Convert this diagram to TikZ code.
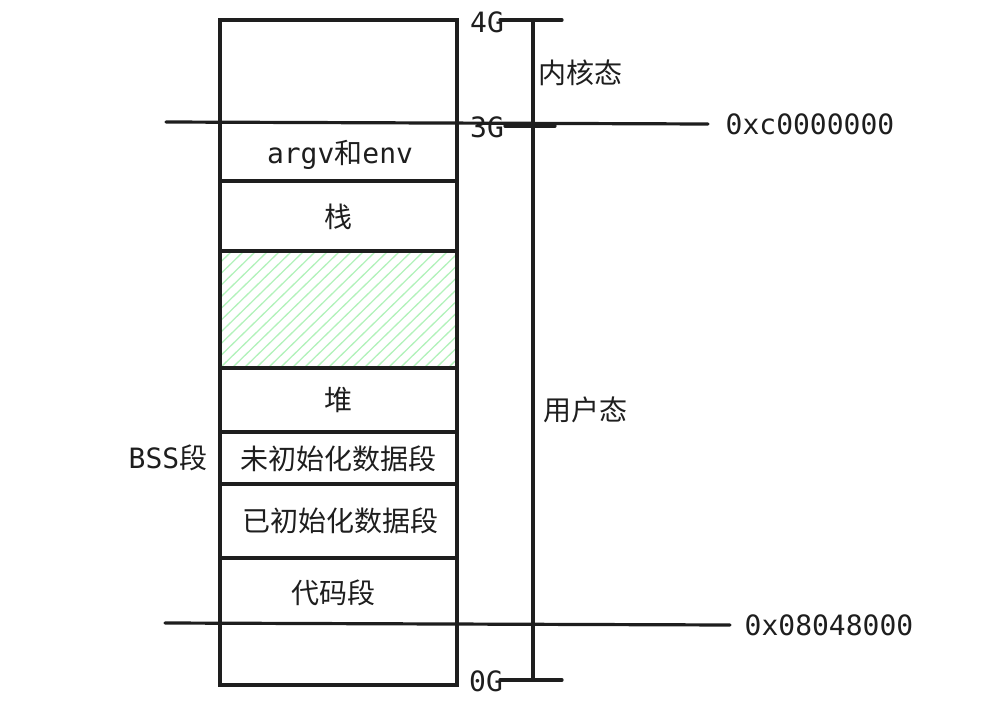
\documentclass[tikz,border=0pt]{standalone}
\usepackage{fontspec}
\setmainfont{DejaVu Sans Mono}
\newfontfamily\cjk{Noto Sans CJK SC}
\definecolor{ink}{HTML}{1E1E1E}
\definecolor{hatch}{HTML}{B2F2BB}
\begin{document}
\begin{tikzpicture}[x=1pt,y=-1pt,
  ln/.style={draw=ink,line width=3.2pt,line cap=round},
  lbl/.style={font=\fontsize{28}{32}\selectfont,text=ink,inner sep=0pt}]
\useasboundingbox (0,0) rectangle (1005,702);
% hatched area
\begin{scope}
\clip (220,251) rectangle (457,368);
\foreach \i in {0,12,...,400} {
  \draw[hatch,line width=1.3pt] (220+\i-120,368) -- (220+\i,251);
}
\end{scope}
% column
\draw[ln] (220,20) rectangle (457,685);
\foreach \y in {181,251,368,432,484,558} \draw[ln] (220,\y) -- (457,\y);
\draw[ln] (166,122) -- (708,124);
\draw[ln] (165,623) -- (730,625);
% axis
\coordinate (atop) at (533,20);
\coordinate (abot) at (533,680);
\draw[ln] (atop) -- (abot);
\draw[ln] (500,20) -- (562,20);
\draw[ln] (500,680) -- (562,680);
\draw[ln] (505,126) -- (555,126);
% labels
\node[lbl] (g4) at (487,22) {4G};
\node[lbl] (g3) at (487,127) {3G};
\node[lbl] (g0) at (486,681) {0G};
\node[lbl] (k) at (580,73) {\cjk 内核态};
\node[lbl] (u) at (585,410) {\cjk 用户态};
\node[lbl] (hc) at (810,124) {0xc0000000};
\node[lbl] (hb) at (829,625) {0x08048000};
\node[lbl] (bss) at (168,458) {BSS{\cjk 段}};
\node[lbl] (s1) at (340,155) {argv{\cjk 和}env};
\node[lbl] (s2) at (338,217) {\cjk 栈};
\node[lbl] (s3) at (338,400) {\cjk 堆};
\node[lbl] (s4) at (338,459) {\cjk 未初始化数据段};
\node[lbl] (s5) at (340,521) {\cjk 已初始化数据段};
\node[lbl] (s6) at (333,593) {\cjk 代码段};
\end{tikzpicture}
\end{document}
